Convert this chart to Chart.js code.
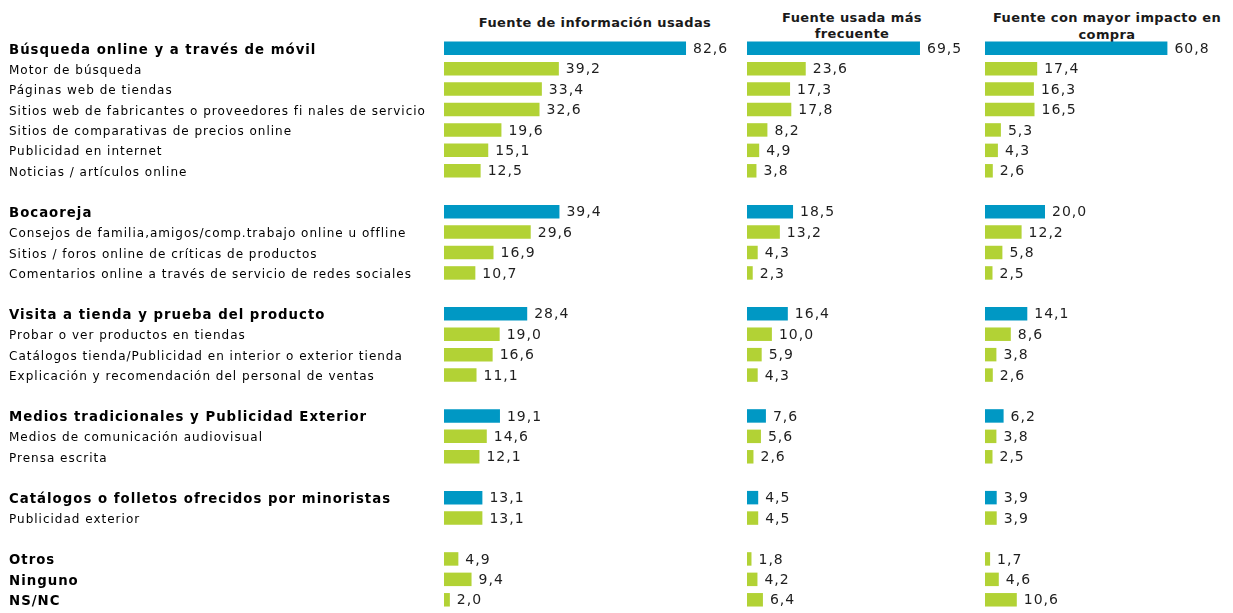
<!DOCTYPE html>
<html>
<head>
<meta charset="utf-8">
<script src="https://cdn.jsdelivr.net/npm/chart.js@4.4.1/dist/chart.umd.min.js"></script>
<style>
  html, body { margin: 0; padding: 0; background: #ffffff; }
  body { width: 1233px; height: 613px; position: relative; overflow: hidden; }
  .box { position: absolute; top: 0; height: 613px; }
  .title { position: absolute; font-family: "DejaVu Sans", sans-serif; font-weight: bold; font-size: 13px; letter-spacing: 0.4px; color: #1a1a1a; text-align: center; white-space: nowrap; }
</style>
</head>
<body>
<div class="title" id="t1" style="left:465px; width:260px; top:14px; line-height:17px;"></div>
<div class="title" id="t2" style="left:762px; width:180px; top:10px; line-height:16px;"></div>
<div class="title" id="t3" style="left:987px; width:240px; top:9px; line-height:17px;"></div>
<div class="box" style="left:0; width:740px;"><canvas id="c1" width="740" height="613"></canvas></div>
<div class="box" style="left:740px; width:245px;"><canvas id="c2" width="245" height="613"></canvas></div>
<div class="box" style="left:978px; width:255px;"><canvas id="c3" width="255" height="613"></canvas></div>
<script>
// ---------- data ----------
const panelTitles = [
  ["Fuente de información usadas"],
  ["Fuente usada más", "frecuente"],
  ["Fuente con mayor impacto en", "compra"]
];

const categories = [
  "Búsqueda online y a través de móvil",
  "Motor de búsqueda",
  "Páginas web de tiendas",
  "Sitios web de fabricantes o proveedores fi nales de servicio",
  "Sitios de comparativas de precios online",
  "Publicidad en internet",
  "Noticias / artículos online",
  "",
  "Bocaoreja",
  "Consejos de familia,amigos/comp.trabajo online u offline",
  "Sitios / foros online de críticas de productos",
  "Comentarios online a través de servicio de redes sociales",
  "",
  "Visita a tienda y prueba del producto",
  "Probar o ver productos en tiendas",
  "Catálogos tienda/Publicidad en interior o exterior tienda",
  "Explicación y recomendación del personal de ventas",
  "",
  "Medios tradicionales y Publicidad Exterior",
  "Medios de comunicación audiovisual",
  "Prensa escrita",
  "",
  "Catálogos o folletos ofrecidos por minoristas",
  "Publicidad exterior",
  "",
  "Otros",
  "Ninguno",
  "NS/NC"
];

// 1 = bold label
const boldLabel = [1,0,0,0,0,0,0,0, 1,0,0,0,0, 1,0,0,0,0, 1,0,0,0, 1,0,0, 1,1,1];
// 1 = group total (blue bar)
const groupTotal = [1,0,0,0,0,0,0,0, 1,0,0,0,0, 1,0,0,0,0, 1,0,0,0, 1,0,0, 0,0,0];

const fuentesUsadas = [82.6,39.2,33.4,32.6,19.6,15.1,12.5,null, 39.4,29.6,16.9,10.7,null, 28.4,19.0,16.6,11.1,null, 19.1,14.6,12.1,null, 13.1,13.1,null, 4.9,9.4,2.0];
const masFrecuente  = [69.5,23.6,17.3,17.8,8.2,4.9,3.8,null, 18.5,13.2,4.3,2.3,null, 16.4,10.0,5.9,4.3,null, 7.6,5.6,2.6,null, 4.5,4.5,null, 1.8,4.2,6.4];
const mayorImpacto  = [60.8,17.4,16.3,16.5,5.3,4.3,2.6,null, 20.0,12.2,5.8,2.5,null, 14.1,8.6,3.8,2.6,null, 6.2,3.8,2.5,null, 3.9,3.9,null, 1.7,4.6,10.6];

// ---------- styles ----------
const BLUE = "#0098C4";
const GREEN = "#B2D235";
const FONT = '"DejaVu Sans", sans-serif';

function fmt(v) { return v.toFixed(1).replace(".", ","); }

document.getElementById("t1").innerHTML = panelTitles[0].join("<br>");
document.getElementById("t2").innerHTML = panelTitles[1].join("<br>");
document.getElementById("t3").innerHTML = panelTitles[2].join("<br>");

const spacing = {
  id: "spacing",
  beforeDraw(chart) { try { chart.ctx.letterSpacing = "1px"; } catch (e) {} },
  afterDraw(chart) { try { chart.ctx.letterSpacing = "0px"; } catch (e) {} }
};

const valueLabels = {
  id: "valueLabels",
  afterDatasetsDraw(chart) {
    const ctx = chart.ctx;
    const meta = chart.getDatasetMeta(0);
    const data = chart.data.datasets[0].data;
    ctx.save();
    ctx.font = "14px " + FONT;
    try { ctx.letterSpacing = "1px"; } catch (e) {}
    ctx.fillStyle = "#1e1e1e";
    ctx.textBaseline = "middle";
    ctx.textAlign = "left";
    meta.data.forEach((bar, i) => {
      const v = data[i];
      if (v === null || v === undefined) return;
      ctx.fillText(fmt(v), bar.x + 7, bar.y + 1);
    });
    ctx.restore();
  }
};

function makeChart(id, values, xMax, padding, showLabels) {
  return new Chart(document.getElementById(id), {
    type: "bar",
    data: {
      labels: categories,
      datasets: [{
        data: values,
        backgroundColor: groupTotal.map(g => g ? BLUE : GREEN),
        borderWidth: 0,
        barPercentage: 0.66,
        categoryPercentage: 1.0
      }]
    },
    options: {
      indexAxis: "y",
      responsive: false,
      devicePixelRatio: 1,
      animation: false,
      layout: { padding: padding },
      plugins: { legend: { display: false }, tooltip: { enabled: false } },
      scales: {
        x: { display: false, min: 0, max: xMax },
        y: {
          display: showLabels,
          grid: { display: false },
          border: { display: false },
          afterFit: s => {
            if (showLabels) {
              s.width = 435;
              s.paddingTop = 0;
              s.paddingBottom = 0;
            }
          },
          ticks: {
            autoSkip: false,
            crossAlign: "far",
            padding: 0,
            labelOffset: 2,
            color: "#000000",
            font: c => ({
              family: FONT,
              size: boldLabel[c.index] ? 13.3 : 12,
              weight: boldLabel[c.index] ? "bold" : "normal"
            })
          }
        }
      }
    },
    plugins: [spacing, valueLabels]
  });
}

makeChart("c1", fuentesUsadas, 100, { left: 9, right: 3, top: 38, bottom: 3 }, true);
makeChart("c2", masFrecuente, 90, { left: 7, right: 14, top: 38, bottom: 3 }, false);
makeChart("c3", mayorImpacto, 80, { left: 7, right: 8, top: 38, bottom: 3 }, false);
</script>
</body>
</html>
